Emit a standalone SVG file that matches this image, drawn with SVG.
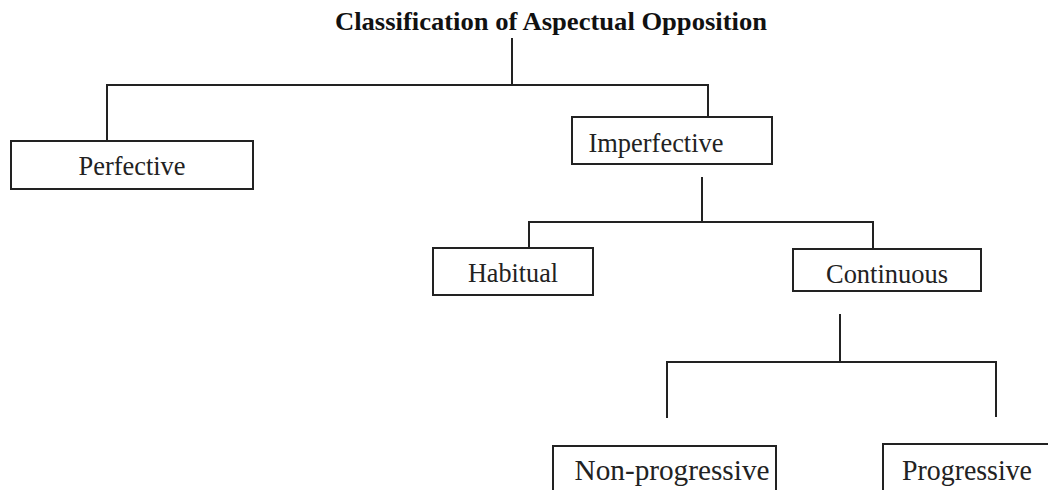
<svg xmlns="http://www.w3.org/2000/svg" width="1048" height="490" viewBox="0 0 1048 490">
<style>
.box{fill:#fff;stroke:#222;stroke-width:2}
.lbl{font-family:"Liberation Serif","Times New Roman",serif;font-size:27px;fill:#222;text-anchor:middle}
.big{font-size:29px}
.title{font-family:"Liberation Serif","Times New Roman",serif;font-size:25px;font-weight:bold;fill:#111}
.conn{fill:none;stroke:#222;stroke-width:2}
</style>
<rect width="1048" height="490" fill="#fff"/>
<text class="title" x="335" y="30" textLength="432" lengthAdjust="spacingAndGlyphs">Classification of Aspectual Opposition</text>
<g id="connectors">
<path class="conn" d="M512 38V85M107 142V85H708V117"/>
<path class="conn" d="M702 177V222M529 248V222H873V249"/>
<path class="conn" d="M840 314V362M667 418V362H996V417"/>
</g>
<g id="perfective"><rect class="box" x="11" y="141" width="242" height="48"/><text class="lbl" x="132" y="175" textLength="107" lengthAdjust="spacingAndGlyphs">Perfective</text></g>
<g id="imperfective"><rect class="box" x="572" y="117" width="200" height="47"/><text class="lbl" x="656" y="152" textLength="135" lengthAdjust="spacingAndGlyphs">Imperfective</text></g>
<g id="habitual"><rect class="box" x="433" y="248" width="160" height="47"/><text class="lbl" x="513" y="282" textLength="90" lengthAdjust="spacingAndGlyphs">Habitual</text></g>
<g id="continuous"><rect class="box" x="793" y="249" width="188" height="42"/><text class="lbl" x="887" y="283" textLength="122" lengthAdjust="spacingAndGlyphs">Continuous</text></g>
<g id="nonprogressive"><rect class="box" x="553" y="446" width="223" height="60"/><text class="lbl big" x="672" y="480" textLength="195" lengthAdjust="spacingAndGlyphs">Non-progressive</text></g>
<g id="progressive"><rect class="box" x="883" y="444" width="180" height="60"/><text class="lbl big" x="967" y="480" textLength="130" lengthAdjust="spacingAndGlyphs">Progressive</text></g>
</svg>
